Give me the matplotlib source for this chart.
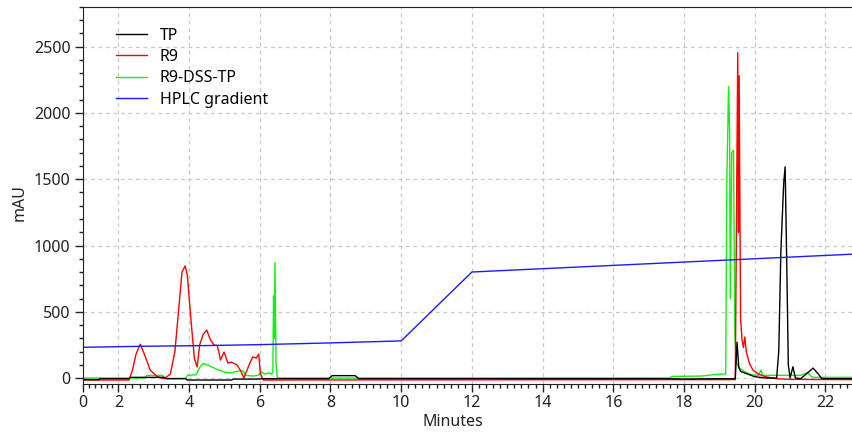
import numpy as np
import matplotlib
matplotlib.use("Agg")
import matplotlib.pyplot as plt
from matplotlib.ticker import FixedLocator, MultipleLocator

plt.rcParams['font.family'] = ['Noto Sans', 'DejaVu Sans']

# chromatogram traces (minutes, mAU)
tp_t = [0, 0.9, 0.95, 2.3, 2.35, 3.3, 3.35, 3.9, 3.95, 5.2, 5.25, 6.0, 6.05, 7.95, 8.05,
        8.7, 8.8, 17.5, 18.0, 19.0, 19.45, 19.5, 19.55, 19.6, 19.7, 19.8, 20.0, 20.3,
        20.62, 20.68, 20.74, 20.82, 20.86, 20.87, 20.91, 20.95, 21.0, 21.08, 21.15,
        21.3, 21.5, 21.65, 21.8, 21.9, 22.8]
tp_v = [-12, -12, -5, -5, 5, 5, -5, -5, -15, -15, -8, -8, -5, -5, 18,
        18, -5, -5, -8, -5, -5, 270, 80, 50, 40, 30, 10, 0,
        0, 200, 960, 1470, 1594, 1445, 800, 100, 0, 85, 0,
        -5, 40, 75, 30, -5, -5]

r9_t = [0, 2.3, 2.4, 2.5, 2.62, 2.75, 2.9, 3.1, 3.3, 3.47, 3.6, 3.7, 3.8, 3.89, 3.95,
        4.05, 4.15, 4.23, 4.3, 4.4, 4.5, 4.6, 4.7, 4.8, 4.89, 4.99, 5.1, 5.2, 5.35,
        5.45, 5.55, 5.7, 5.8, 5.9, 5.97, 6.02, 6.1, 17.8, 19.45, 19.52, 19.54, 19.56,
        19.6, 19.64, 19.68, 19.72, 19.76, 19.85, 19.95, 20.1, 20.3, 20.6, 21.0, 22.8]
r9_v = [-15, -15, 60, 180, 255, 170, 60, 10, -5, 30, 200, 500, 800, 846, 780,
        450, 150, 83, 250, 330, 362, 290, 250, 245, 136, 196, 113, 120, 100,
        60, 0, 100, 160, 150, 180, 30, -15, -12, -12, 2455, 1100, 2280,
        450, 290, 230, 310, 200, 110, 60, 30, 10, -5, -10, -12]

conj_t = [0, 2.75, 2.8, 3.25, 3.3, 3.9, 3.95, 4.2, 4.25, 4.3, 4.4, 4.5, 4.6, 4.75, 4.9,
          5.0, 5.2, 5.35, 5.5, 5.55, 5.6, 5.8, 5.95, 6.05, 6.15, 6.25, 6.33, 6.37,
          6.39, 6.41, 6.43, 6.46, 6.5, 17.6, 17.65, 18.5, 19.0, 19.18, 19.21, 19.26,
          19.29, 19.31, 19.35, 19.40, 19.44, 19.48, 19.55, 19.7, 19.9, 20.1, 20.18,
          20.22, 20.3, 21.3, 21.5, 21.6, 21.7, 22.8]
conj_v = [0, 0, 20, 20, -3, -3, 20, 25, 50, 80, 110, 100, 90, 70, 55,
          45, 40, 50, 55, 45, 20, 15, 20, 45, 30, 40, 30, 40,
          620, 300, 870, 100, 0, 0, 12, 15, 30, 30, 1450, 2200,
          1860, 600, 1700, 1720, 300, 120, 80, 50, 25, 20, 60,
          20, 20, 20, 40, 10, 5, 5]

grad_t = [0, 2.8, 4.5, 6.0, 8.0, 10, 12, 22.8]
grad_v = [232, 240, 245, 252, 265, 280, 800, 935]

x_ticks = [0, 2, 4, 6, 8, 10, 12, 14, 16, 18, 20, 22]
y_ticks = [0, 500, 1000, 1500, 2000, 2500]


# first two minutes are drawn at half scale
def fwd(x):
    x = np.asarray(x, dtype=float)
    return np.where(x < 2, 1 + x / 2, x)


def inv(y):
    y = np.asarray(y, dtype=float)
    return np.where(y < 2, 2 * (y - 1), y)


fig = plt.figure(figsize=(8.53, 4.36), dpi=100)
ax = fig.add_axes([0.0973, 0.1193, 0.9027, 0.8647])
ax.set_xscale('function', functions=(fwd, inv))

l_conj, = ax.plot(conj_t, conj_v, color='#11f011', lw=1.0, label='R9-DSS-TP')
l_r9, = ax.plot(r9_t, r9_v, color='#ff0000', lw=1.0, label='R9')
l_tp, = ax.plot(tp_t, tp_v, color='#000000', lw=1.0, label='TP')
l_grad, = ax.plot(grad_t, grad_v, color='#1a1aff', lw=1.0, label='HPLC gradient')

ax.set_xlim(0, 22.78)
ax.set_ylim(-45, 2800)

ax.xaxis.set_major_locator(FixedLocator(x_ticks))
minor_x = list(np.arange(1 / 3, 2, 1 / 3)) + list(np.arange(2.2, 22.8, 0.2))
ax.xaxis.set_minor_locator(FixedLocator(minor_x))
ax.set_xticklabels([str(t) for t in x_ticks])
ax.yaxis.set_major_locator(FixedLocator(y_ticks))
ax.yaxis.set_minor_locator(MultipleLocator(100))

ax.tick_params(which='major', length=6, width=1, labelsize=11.5, colors='#222222', pad=2)
ax.tick_params(which='minor', length=3, width=1, colors='#222222')
ax.tick_params(axis='y', pad=3)

ax.grid(True, which='major', color='#c8c8c8', linestyle=(0, (3, 3)), lw=0.9)
ax.spines['right'].set_visible(False)
for s in ['left', 'top', 'bottom']:
    ax.spines[s].set_color('#222222')

ax.set_xlabel('Minutes', fontsize=11.5, color='#222222')
ax.set_ylabel('mAU', fontsize=11.5, color='#222222')
ax.xaxis.set_label_coords(0.48, -0.08)
ax.yaxis.set_label_coords(-0.072, 0.48)

ax.legend(handles=[l_tp, l_r9, l_conj, l_grad], loc='upper left',
          bbox_to_anchor=(0.0429, 0.945), frameon=False, borderpad=0,
          borderaxespad=0, handlelength=1.95, handletextpad=0.8,
          labelspacing=0.33, fontsize=11.5)

fig.savefig('out.png', dpi=100)
